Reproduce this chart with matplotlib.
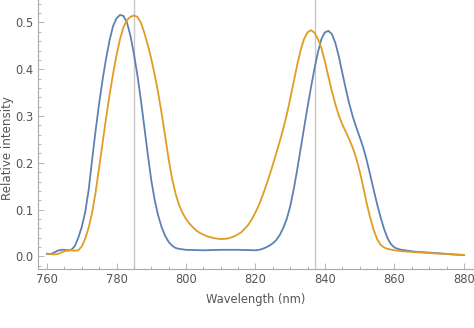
import matplotlib
matplotlib.use("Agg")
import matplotlib.pyplot as plt
from matplotlib.ticker import MultipleLocator

# Wavelength grid (nm) and relative intensities
wl_blue = [760, 761, 762, 763, 764, 765, 766, 767, 768, 769, 770, 771, 772, 773, 774,
           775, 776, 777, 778, 779, 780, 781, 782, 783, 784, 785, 786, 787, 788, 789,
           790, 791, 792, 793, 794, 795, 796, 797, 798, 800, 805, 810, 815, 820, 821,
           822, 823, 824, 825, 826, 827, 828, 829, 830, 831, 832, 833, 834, 835, 836,
           837, 838, 839, 840, 841, 842, 843, 844, 845, 846, 847, 848, 849, 850, 851,
           852, 853, 854, 855, 856, 857, 858, 859, 860, 861, 862, 864, 866, 868, 870,
           874, 877, 880]
blue = [0.005, 0.005, 0.008, 0.012, 0.014, 0.014, 0.013, 0.014, 0.022, 0.040, 0.063,
        0.095, 0.143, 0.208, 0.27, 0.327, 0.378, 0.423, 0.462, 0.492, 0.509, 0.516, 0.514,
        0.50, 0.472, 0.433, 0.388, 0.335, 0.277, 0.218, 0.163, 0.12, 0.087, 0.062, 0.044,
        0.031, 0.023, 0.018, 0.016, 0.014, 0.013, 0.014, 0.014, 0.013, 0.014, 0.016,
        0.019, 0.023, 0.028, 0.035, 0.046, 0.061, 0.08, 0.107, 0.143, 0.185, 0.23, 0.275,
        0.32, 0.362, 0.402, 0.437, 0.465, 0.479, 0.482, 0.475, 0.456, 0.427, 0.392,
        0.358, 0.326, 0.299, 0.276, 0.255, 0.233, 0.206, 0.175, 0.143, 0.112, 0.084, 0.059,
        0.039, 0.026, 0.019, 0.016, 0.014, 0.012, 0.010, 0.009, 0.008, 0.006, 0.004,
        0.003]

wl_orange = [760, 761, 762, 763, 764, 765, 766, 767, 768, 769, 770, 771, 772, 773, 774,
             775, 776, 777, 778, 779, 780, 781, 782, 783, 784, 785, 786, 787, 788, 789,
             790, 791, 792, 793, 794, 795, 796, 797, 798, 799, 800, 801, 802, 803, 804,
             806, 808, 810, 812, 814, 816, 818, 819, 820, 821, 822, 823, 824, 825, 826,
             827, 828, 829, 830, 831, 832, 833, 834, 835, 836, 837, 838, 839, 840, 841,
             842, 843, 844, 845, 846, 847, 848, 849, 850, 851, 852, 853, 854, 855, 856,
             857, 858, 860, 862, 866, 870, 875, 880]
orange = [0.006, 0.005, 0.004, 0.005, 0.008, 0.011, 0.012, 0.013, 0.012, 0.013, 0.021,
          0.038, 0.062, 0.094, 0.138, 0.19, 0.243, 0.296, 0.345, 0.39, 0.43, 0.464, 0.49,
          0.505, 0.512, 0.515, 0.512, 0.50, 0.478, 0.452, 0.422, 0.388, 0.349, 0.305,
          0.257, 0.208, 0.166, 0.134, 0.11, 0.093, 0.08, 0.07, 0.062, 0.055, 0.05, 0.043,
          0.039, 0.037, 0.038, 0.043, 0.052, 0.068, 0.08, 0.094, 0.11, 0.129, 0.15, 0.172,
          0.196, 0.221, 0.246, 0.273, 0.303, 0.337, 0.373, 0.409, 0.441, 0.465, 0.479,
          0.4835, 0.478, 0.464, 0.445, 0.416, 0.384, 0.353, 0.325, 0.301, 0.282, 0.266,
          0.25, 0.232, 0.21, 0.182, 0.149, 0.114, 0.083, 0.057, 0.037, 0.025, 0.019,
          0.016, 0.013, 0.011, 0.009, 0.007, 0.005, 0.003]

ref_lines = [785, 837]
x_ticks = [760, 780, 800, 820, 840, 860, 880]
y_ticks = [0.0, 0.1, 0.2, 0.3, 0.4, 0.5]

gray_txt = "#555555"
axis_col = "#aaaaaa"

fig = plt.figure(figsize=(4.74, 3.28), dpi=100)
ax = fig.add_axes([38 / 474, (328 - 269) / 328, 1 - 38 / 474, 269 / 328])

for xv in ref_lines:
    ax.axvline(xv, color="#c8c8c8", lw=1.0, zorder=1)

ax.plot(wl_blue, blue, color="#5E81B5", lw=1.3, zorder=3,
        solid_joinstyle="round")
ax.plot(wl_orange, orange, color="#E19C24", lw=1.3, zorder=3,
        solid_joinstyle="round")

ax.set_xlim(757.4, 882.9)
ax.set_ylim(-0.027, 0.548)

for s in ["top", "right"]:
    ax.spines[s].set_visible(False)
for s in ["left", "bottom"]:
    ax.spines[s].set_color(axis_col)
    ax.spines[s].set_linewidth(0.8)

ax.set_xticks(x_ticks)
ax.set_xticklabels([str(v) for v in x_ticks])
ax.set_yticks(y_ticks)
ax.set_yticklabels([f"{v:.1f}" for v in y_ticks])
ax.xaxis.set_minor_locator(MultipleLocator(5))
ax.yaxis.set_minor_locator(MultipleLocator(0.02))
ax.tick_params(which="both", direction="in", color=axis_col, labelcolor=gray_txt,
               labelsize=8.3, width=0.6)
ax.tick_params(which="major", length=4, pad=3)
ax.tick_params(which="minor", length=2)

ax.set_xlabel("Wavelength (nm)", fontsize=8.3, color=gray_txt, labelpad=5)
ax.set_ylabel("Relative intensity", fontsize=8.6, color=gray_txt, va="center")
ax.yaxis.set_label_coords(-0.069, 0.45)

fig.savefig("out.png", dpi=100)
